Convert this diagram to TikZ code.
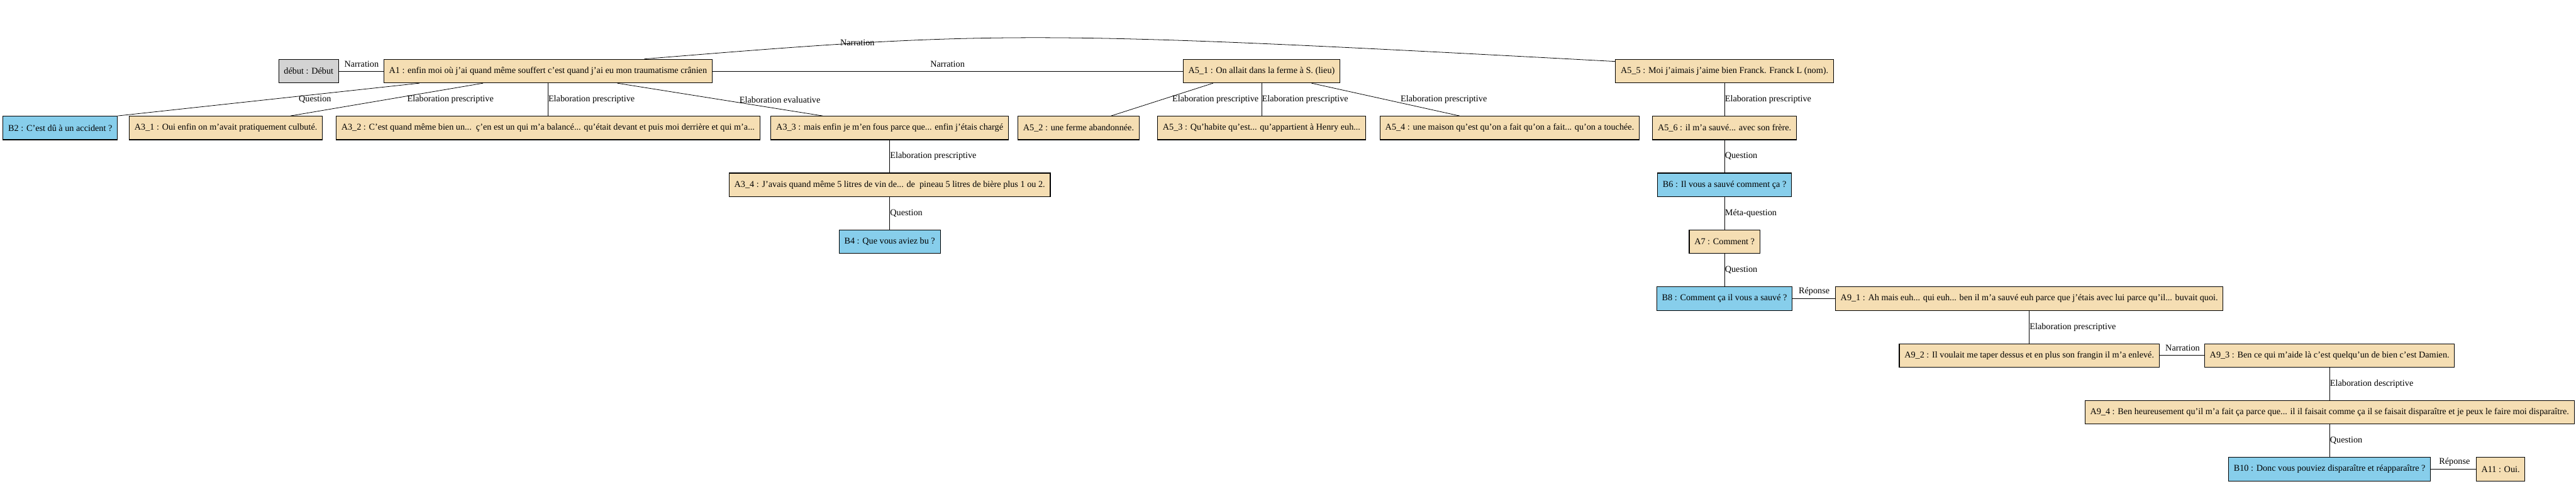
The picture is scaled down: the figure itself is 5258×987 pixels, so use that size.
\documentclass[tikz,border=0pt]{standalone}
\usepackage{fontspec}
\setmainfont{Liberation Serif}
\usetikzlibrary{calc}
\definecolor{wheatbox}{HTML}{F5DEB3}
\definecolor{skybox}{HTML}{87CEEB}
\definecolor{greybox}{HTML}{D3D3D3}
\tikzset{
  turn/.style={draw, line width=1pt, minimum height=36pt, inner xsep=8pt, inner ysep=0pt},
  spkA/.style={turn, fill=wheatbox},
  spkB/.style={turn, fill=skybox},
  rel/.style={line width=0.75pt},
  lab/.style={inner sep=0.5pt},
}
\begin{document}
\begin{tikzpicture}[x=0.75pt, y=-0.75pt, font=\fontsize{13.7}{16.5}\selectfont]
\useasboundingbox (0,0) rectangle (5258,987);
\node [turn, fill=greybox] (debut) at (630,145) {début : Début};
\node [spkA] (A1) at (1118.5,145) {A1 : enfin moi où j'ai quand même souffert c'est quand j'ai eu mon traumatisme crânien};
\node [spkA] (A51) at (2575,145) {A5\_1 : On allait dans la ferme à S. (lieu)};
\node [spkA] (A55) at (3520,145) {A5\_5 : Moi j'aimais j’aime bien Franck. Franck L (nom).};
\node [spkB] (B2) at (123,261) {B2 : C'est dû à un accident ?};
\node [spkA] (A31) at (461,261) {A3\_1 : Oui enfin on m’avait pratiquement culbuté.};
\node [spkA] (A32) at (1118.5,261) {A3\_2 : C’est quand même bien un...\ \ ç'en est un qui m'a balancé... qu'était devant et puis moi derrière et qui m’a...};
\node [spkA] (A33) at (1816,261) {A3\_3 : mais enfin je m’en fous parce que... enfin j'étais chargé};
\node [spkA] (A52) at (2201.5,261) {A5\_2 : une ferme abandonnée.};
\node [spkA] (A53) at (2575,261) {A5\_3 : Qu’habite qu’est... qu’appartient à Henry euh...};
\node [spkA] (A54) at (3081.5,261) {A5\_4 : une maison qu’est qu'on a fait qu'on a fait... qu’on a touchée.};
\node [spkA] (A56) at (3520,261) {A5\_6 : il m'a sauvé... avec son frère.};
\node [spkA] (A34) at (1816,377) {A3\_4 : J'avais quand même 5 litres de vin de... de\ \ pineau 5 litres de bière plus 1 ou 2.};
\node [spkB] (B6) at (3520,377) {B6 : Il vous a sauvé comment ça ?};
\node [spkB] (B4) at (1816,493) {B4 : Que vous aviez bu ?};
\node [spkA] (A7) at (3520,493) {A7 : Comment ?};
\node [spkB] (B8) at (3520,609) {B8 : Comment ça il vous a sauvé ?};
\node [spkA] (A91) at (4142,609) {A9\_1 : Ah mais euh... qui euh... ben il m'a sauvé euh parce que j'étais avec lui parce qu'il... buvait quoi.};
\node [spkA] (A92) at (4142,725) {A9\_2 : Il voulait me taper dessus et en plus son frangin il m'a enlevé.};
\node [spkA] (A93) at (4755,725) {A9\_3 : Ben ce qui m'aide là c'est quelqu'un de bien c'est Damien.};
\node [spkA] (A94) at (4755,841) {A9\_4 : Ben heureusement qu'il m'a fait ça parce que... il il faisait comme ça il se faisait disparaître et je peux le faire moi disparaître.};
\node [spkB] (B10) at (4755,957) {B10 : Donc vous pouviez disparaître et réapparaître ?};
\node [spkA] (A11) at (5104,957) {A11 : Oui.};
\draw [rel] (debut) -- (A1); \node [lab] (l1) at (738,131) {Narration};
\draw [rel] ($(A1.south)+(-262.5,0)$) -- (B2.north east); \node [lab] (l2) at (643,203) {Question};
\draw [rel] ($(A1.south)+(-132.5,0)$) -- ($(A31.north)+(132,0)$); \node [lab] (l3) at (919.5,203) {Elaboration prescriptive};
\draw [rel] (A1.south) -- (A32.north); \node [lab, anchor=west] (l4) at (1118.5,203) {Elaboration prescriptive};
\draw [rel] ($(A1.south)+(141.5,0)$) -- ($(A33.north)+(-137,0)$); \node [lab] (l5) at (1592,203) {Elaboration evaluative};
\draw [rel] (A1) -- (A51); \node [lab] (l6) at (1934,131) {Narration};
\draw [rel] ($(A1.north)+(196.5,0)$) .. controls (2035,61.5) and (2105,61.5) .. ($(A55.north west)+(0,5)$); \node [lab] (l7) at (1750,87) {Narration};
\draw [rel] (A33.south) -- (A34.north); \node [lab, anchor=west] (l8) at (1816,318) {Elaboration prescriptive};
\draw [rel] (A34.south) -- (B4.north); \node [lab, anchor=west] (l9) at (1816,435) {Question};
\draw [rel] ($(A51.south)+(-99,0)$) -- ($(A52.north)+(66.5,0)$); \node [lab] (l10) at (2481,203) {Elaboration prescriptive};
\draw [rel] (A51.south) -- (A53.north); \node [lab, anchor=west] (l11) at (2575,203) {Elaboration prescriptive};
\draw [rel] ($(A51.south)+(102,0)$) -- ($(A54.north)+(-102.5,0)$); \node [lab] (l12) at (2947,203) {Elaboration prescriptive};
\draw [rel] (A55.south) -- (A56.north); \node [lab, anchor=west] (l13) at (3520,203) {Elaboration prescriptive};
\draw [rel] (A56.south) -- (B6.north); \node [lab, anchor=west] (l14) at (3520,318) {Question};
\draw [rel] (B6.south) -- (A7.north); \node [lab, anchor=west] (l15) at (3520,435) {Méta-question};
\draw [rel] (A7.south) -- (B8.north); \node [lab, anchor=west] (l16) at (3520,550) {Question};
\draw [rel] (B8) -- (A91); \node [lab] (l17) at (3703,595) {Réponse};
\draw [rel] (A91.south) -- (A92.north); \node [lab, anchor=west] (l18) at (4142,667) {Elaboration prescriptive};
\draw [rel] (A92) -- (A93); \node [lab] (l19) at (4455,710) {Narration};
\draw [rel] (A93.south) -- (A94.north); \node [lab, anchor=west] (l20) at (4755,783) {Elaboration descriptive};
\draw [rel] (A94.south) -- (B10.north); \node [lab, anchor=west] (l21) at (4755,898) {Question};
\draw [rel] (B10) -- (A11); \node [lab] (l22) at (5010,942) {Réponse};
\end{tikzpicture}
\end{document}
